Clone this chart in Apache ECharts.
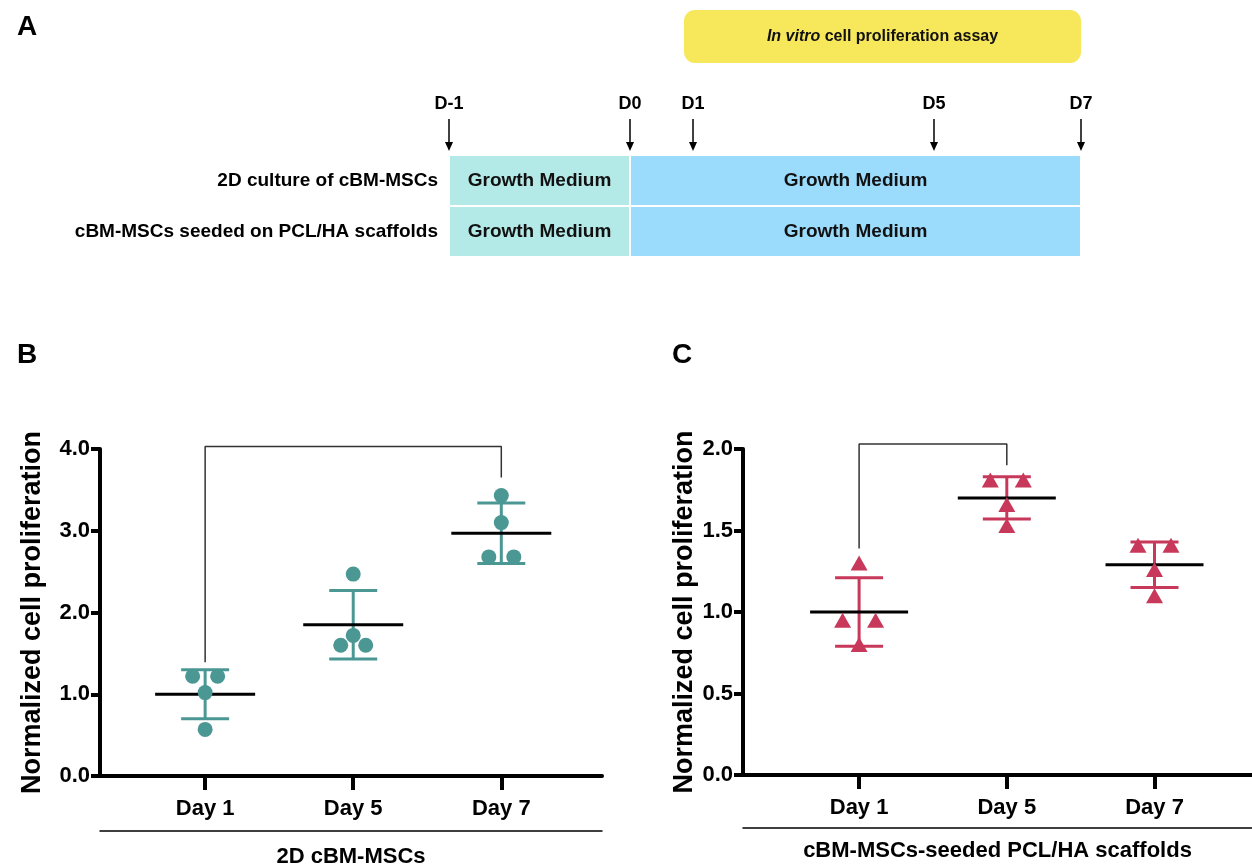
<!DOCTYPE html>
<html>
<head>
<meta charset="utf-8">
<script src="https://cdn.jsdelivr.net/npm/echarts@6/dist/echarts.min.js"></script>
<style>html,body{margin:0;padding:0;background:#fff}#c{width:1252px;height:867px}</style>
</head>
<body>
<div id="c"></div>
<script>
// ---------- Data ----------
const categories = ['Day 1', 'Day 5', 'Day 7'];
const yTicksB = [0, 1, 2, 3, 4];
const yTicksC = [0, 0.5, 1, 1.5, 2];

// Panel B: 2D cBM-MSCs (individual replicates, mean, SD)
const pointsB = [[1.22, 1.22, 1.02, 0.57], [2.47, 1.72, 1.60, 1.60], [3.43, 3.10, 2.68, 2.68]];
const meanB = [1.00, 1.85, 2.97];
const sdB = [0.30, 0.42, 0.37];
const bracketB = { from: 1, to: 3, top: 4.03, leftEnd: 1.39, rightEnd: 3.65 };

// Panel C: cBM-MSCs-seeded PCL/HA scaffolds
const pointsC = [[1.30, 0.95, 0.95, 0.80], [1.81, 1.81, 1.66, 1.53], [1.41, 1.41, 1.26, 1.10]];
const meanC = [1.00, 1.70, 1.29];
const sdC = [0.21, 0.13, 0.14];
const bracketC = { from: 1, to: 2, top: 2.03, leftEnd: 1.39, rightEnd: 1.90 };

// Panel A: experimental timeline (schematic positions, not to scale)
const timelineLabels = ['D-1', 'D0', 'D1', 'D5', 'D7'];
const timelinePos = [0, 28.64, 38.61, 76.74, 100];
const rowLabels = ['2D culture of cBM-MSCs', 'cBM-MSCs seeded on PCL/HA scaffolds'];
const phaseLabels = ['Growth Medium', 'Growth Medium'];
const phaseFrom = ['D-1', 'D0'];
const phaseTo = ['D0', 'D7'];
const assayLabel = ['In vitro', 'cell proliferation assay'];
const assayFrom = 'D1', assayTo = 'D7';

// ---------- Styles ----------
const FONT = "'Liberation Sans', Arial, Helvetica, sans-serif";
const NARROW = "'Liberation Sans Narrow', 'Arial Narrow', 'Liberation Sans', Arial, sans-serif";
const TEAL = '#4b9794';
const RED = '#c8385b';
const phaseColors = ['#b3e9e7', '#9bdcfd'];
const posOf = l => timelinePos[timelineLabels.indexOf(l)];

function swarm(points, spread) {
  // spread identical values side by side
  const out = [];
  points.forEach((vals, i) => {
    const groups = {};
    vals.forEach(v => { (groups[v] = groups[v] || []).push(v); });
    const seen = {};
    vals.forEach(v => {
      const n = groups[v].length; const k = (seen[v] = (seen[v] || 0) + 1) - 1;
      const off = (k - (n - 1) / 2) * spread;
      out.push({ value: [i + 1, v], symbolOffset: [off, 0] });
    });
  });
  return out;
}

function errItem(color, meanHalf, capHalf) {
  return function (params, api) {
    const x = api.value(0), m = api.value(1), s = api.value(2);
    const c = api.coord([x, m]), hi = api.coord([x, m + s]), lo = api.coord([x, m - s]);
    const st = { stroke: color, lineWidth: 3 };
    return { type: 'group', children: [
      { type: 'line', shape: { x1: c[0], y1: hi[1], x2: c[0], y2: lo[1] }, style: st },
      { type: 'line', shape: { x1: c[0] - capHalf, y1: hi[1], x2: c[0] + capHalf, y2: hi[1] }, style: st },
      { type: 'line', shape: { x1: c[0] - capHalf, y1: lo[1], x2: c[0] + capHalf, y2: lo[1] }, style: st },
      { type: 'line', shape: { x1: c[0] - meanHalf, y1: c[1], x2: c[0] + meanHalf, y2: c[1] }, style: { stroke: '#000', lineWidth: 3 } }
    ] };
  };
}

function bracketData(b) {
  return [[b.from, b.leftEnd], [b.from, b.top], [b.to, b.top], [b.to, b.rightEnd]];
}

function valueYAxis(grid, ticks, gap) {
  return {
    gridIndex: grid, type: 'value', min: ticks[0], max: ticks[ticks.length - 1],
    interval: ticks[1] - ticks[0],
    name: 'Normalized cell proliferation', nameLocation: 'middle', nameGap: gap,
    nameTextStyle: { fontFamily: FONT, fontWeight: 'bold', fontSize: 27, color: '#000' },
    axisLine: { show: true, lineStyle: { color: '#000', width: 4 } },
    axisTick: { show: true, length: 9, lineStyle: { color: '#000', width: 4 } },
    axisLabel: { fontFamily: FONT, fontWeight: 'bold', fontSize: 22, color: '#000', margin: 10,
      formatter: v => v.toFixed(1) },
    splitLine: { show: false }
  };
}
function catXAxis(grid, min, max) {
  return {
    gridIndex: grid, type: 'value', min: min, max: max,
    axisLine: { show: true, onZero: false, lineStyle: { color: '#000', width: 4 } },
    axisTick: { show: true, length: 14, customValues: [1, 2, 3], lineStyle: { color: '#000', width: 4 } },
    axisLabel: { customValues: [1, 2, 3], formatter: v => categories[Math.round(v) - 1] || '',
      fontFamily: FONT, fontWeight: 'bold', fontSize: 22, color: '#000', margin: 22 },
    splitLine: { show: false }
  };
}
function groupXAxis(grid, min, max, name, offset, gap) {
  return {
    gridIndex: grid, type: 'value', min: min, max: max, position: 'bottom', offset: offset,
    name: name, nameLocation: 'middle', nameGap: gap,
    nameTextStyle: { fontFamily: FONT, fontWeight: 'bold', fontSize: 22, color: '#000' },
    axisLine: { show: true, onZero: false, lineStyle: { color: '#000', width: 1.5 } },
    axisTick: { show: false }, axisLabel: { show: false }, splitLine: { show: false }
  };
}

const chart = echarts.init(document.getElementById('c'), null, { renderer: 'canvas' });

const option = {
  backgroundColor: '#fff',
  animation: false,
  textStyle: { fontFamily: FONT },
  title: [
    { text: 'A', left: 12, top: 8, textStyle: { fontFamily: FONT, fontWeight: 'bold', fontSize: 28, color: '#000' } },
    { text: 'B', left: 12, top: 336, textStyle: { fontFamily: FONT, fontWeight: 'bold', fontSize: 28, color: '#000' } },
    { text: 'C', left: 667, top: 336, textStyle: { fontFamily: FONT, fontWeight: 'bold', fontSize: 28, color: '#000' } }
  ],
  grid: [
    { left: 449, right: 171, top: 155, height: 102, outerBoundsMode: 'none', containLabel: false },
    { left: 100, top: 449, width: 502, height: 327, outerBoundsMode: 'none', containLabel: false },
    { left: 743, top: 449, right: 0, height: 326, outerBoundsMode: 'none', containLabel: false }
  ],
  xAxis: [
    { gridIndex: 0, type: 'value', min: 0, max: 100, show: false },
    catXAxis(1, 0.29, 3.68),
    catXAxis(2, 0.214, 3.66),
    groupXAxis(1, 0.29, 3.68, '2D cBM-MSCs', 55, 15),
    groupXAxis(2, 0.214, 3.66, 'cBM-MSCs-seeded PCL/HA scaffolds', 53, 12)
  ],
  yAxis: [
    { gridIndex: 0, type: 'category', data: rowLabels, inverse: true,
      axisLine: { show: false }, axisTick: { show: false }, splitLine: { show: false },
      axisLabel: { fontFamily: NARROW, fontWeight: 'bold', fontSize: 19, color: '#000', margin: 11 } },
    valueYAxis(1, yTicksB, 54),
    valueYAxis(2, yTicksC, 43)
  ],
  series: [
    // Panel A: medium boxes
    {
      type: 'custom', xAxisIndex: 0, yAxisIndex: 0, z: 2,
      data: rowLabels.flatMap((r, ri) => phaseLabels.map((p, pi) => [posOf(phaseFrom[pi]), ri, posOf(phaseTo[pi]), pi])),
      renderItem: function (params, api) {
        const a = api.coord([api.value(0), api.value(1)]);
        const b = api.coord([api.value(2), api.value(1)]);
        const band = api.size([0, 1])[1];
        const pi = api.value(3);
        return { type: 'group', children: [
          { type: 'rect', shape: { x: a[0] + 1, y: a[1] - band / 2 + 1, width: b[0] - a[0] - 2, height: band - 2 },
            style: { fill: phaseColors[pi] } },
          { type: 'text', x: (a[0] + b[0]) / 2, y: a[1],
            style: { text: phaseLabels[pi], align: 'center', verticalAlign: 'middle',
              font: 'bold 19px ' + NARROW, fill: '#111' } }
        ] };
      }
    },
    // Panel A: day arrows
    {
      type: 'custom', xAxisIndex: 0, yAxisIndex: 0, z: 3,
      data: timelineLabels.map((l, i) => [timelinePos[i], 0, i]),
      renderItem: function (params, api) {
        const x = api.coord([api.value(0), 0])[0];
        const y0 = params.coordSys.y;
        const lbl = timelineLabels[api.value(2)];
        return { type: 'group', children: [
          { type: 'line', shape: { x1: x, y1: y0 - 36, x2: x, y2: y0 - 10 }, style: { stroke: '#000', lineWidth: 1.5 } },
          { type: 'polygon', shape: { points: [[x - 4, y0 - 13], [x + 4, y0 - 13], [x, y0 - 4]] }, style: { fill: '#000' } },
          { type: 'text', x: x, y: y0 - 51, style: { text: lbl, align: 'center', verticalAlign: 'middle',
            font: 'bold 18px ' + NARROW, fill: '#000' } }
        ] };
      }
    },
    // Panel A: assay banner
    {
      type: 'custom', xAxisIndex: 0, yAxisIndex: 0, z: 3,
      data: [[posOf(assayFrom), 0, posOf(assayTo)]],
      renderItem: function (params, api) {
        const a = api.coord([api.value(0), 0])[0] - 9;
        const b = api.coord([api.value(2), 0])[0];
        const y0 = params.coordSys.y;
        return { type: 'group', children: [
          { type: 'rect', shape: { x: a, y: y0 - 145, width: b - a, height: 53, r: 11 }, style: { fill: '#f7e75b' } },
          { type: 'text', x: (a + b) / 2, y: y0 - 118,
            style: { text: '{i|' + assayLabel[0] + '} ' + assayLabel[1], align: 'center', verticalAlign: 'middle',
              fontFamily: NARROW, fontWeight: 'bold', fontSize: 16, fill: '#111',
              rich: { i: { fontStyle: 'italic', fontWeight: 'bold', fontFamily: NARROW, fontSize: 16, fill: '#111' } } } }
        ] };
      }
    },
    // Panel B
    {
      type: 'custom', xAxisIndex: 1, yAxisIndex: 1, z: 2,
      data: meanB.map((m, i) => [i + 1, m, sdB[i]]),
      renderItem: errItem(TEAL, 50, 24)
    },
    {
      type: 'scatter', xAxisIndex: 1, yAxisIndex: 1, z: 4, symbol: 'circle', symbolSize: 15,
      itemStyle: { color: TEAL, opacity: 1 }, data: swarm(pointsB, 25)
    },
    {
      type: 'line', xAxisIndex: 1, yAxisIndex: 1, z: 1, clip: false, symbol: 'none',
      lineStyle: { color: '#333', width: 1.5 }, data: bracketData(bracketB)
    },
    // Panel C
    {
      type: 'custom', xAxisIndex: 2, yAxisIndex: 2, z: 2,
      data: meanC.map((m, i) => [i + 1, m, sdC[i]]),
      renderItem: errItem(RED, 49, 24)
    },
    {
      type: 'scatter', xAxisIndex: 2, yAxisIndex: 2, z: 4, symbol: 'triangle', symbolSize: [17, 15],
      itemStyle: { color: RED, opacity: 1 }, data: swarm(pointsC, 33)
    },
    {
      type: 'line', xAxisIndex: 2, yAxisIndex: 2, z: 1, clip: false, symbol: 'none',
      lineStyle: { color: '#333', width: 1.5 }, data: bracketData(bracketC)
    }
  ]
};
chart.setOption(option);
</script>
</body>
</html>
